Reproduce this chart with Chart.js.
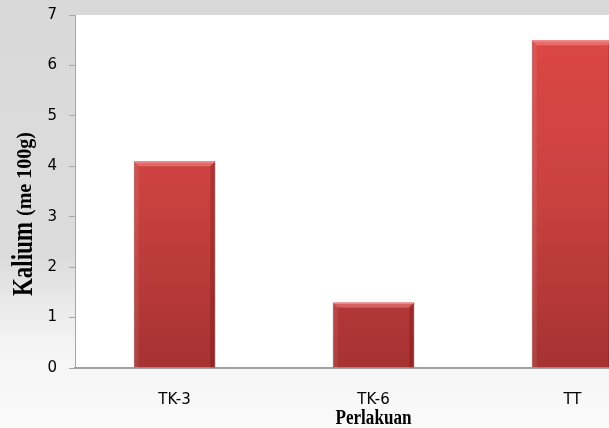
<!DOCTYPE html>
<html>
<head>
<meta charset="utf-8">
<script src="https://cdn.jsdelivr.net/npm/chart.js@4.4.0/dist/chart.umd.min.js"></script>
<style>
    body { margin: 0; overflow: hidden; background: #ffffff; }
    #wrap { width: 672px; height: 428px; position: relative; }
</style>
</head>
<body>
<div id="wrap"><canvas id="kaliumChart"></canvas></div>
<script>
// data
const categories = ['TK-3', 'TK-6', 'TT'];
const kaliumValues = [4.1, 1.3, 6.5];
const yTicks = [0, 1, 2, 3, 4, 5, 6, 7];

// grey page around the plot, white plot area
const backgroundPlugin = {
    id: 'pageBackground',
    beforeDraw(chart) {
        const ctx = chart.ctx;
        const area = chart.chartArea;
        const g = ctx.createLinearGradient(0, 0, 0, chart.height);
        g.addColorStop(0, '#d9d9d9');
        g.addColorStop(0.6, '#dcdcdc');
        g.addColorStop(0.8, '#f4f4f4');
        g.addColorStop(1, '#fafafa');
        ctx.save();
        ctx.fillStyle = g;
        ctx.fillRect(0, 0, chart.width, chart.height);
        ctx.fillStyle = '#ffffff';
        ctx.fillRect(area.left, area.top, area.right - area.left, area.bottom - area.top);
        ctx.restore();
    }
};

// draw a string stretched to a given length
function fitText(ctx, text, x, y, len) {
    const w = ctx.measureText(text).width;
    ctx.save();
    ctx.translate(x, y);
    ctx.scale(len / w, 1);
    ctx.fillText(text, 0, 0);
    ctx.restore();
}

// axis titles in tall condensed serif, like the original
const titlesPlugin = {
    id: 'axisTitles',
    afterDraw(chart) {
        const ctx = chart.ctx;
        const xs = chart.scales.x;
        ctx.save();
        ctx.fillStyle = '#000000';
        ctx.textBaseline = 'alphabetic';
        ctx.textAlign = 'left';

        // x title centred under the whole axis
        ctx.font = 'bold 20px "Liberation Serif"';
        const cx = (xs.left + xs.right) / 2;
        fitText(ctx, 'Perlakuan', cx - 38, 424, 76);

        // y title rotated
        ctx.translate(32, 296);
        ctx.rotate(-Math.PI / 2);
        ctx.font = 'bold 30px "Liberation Serif"';
        fitText(ctx, 'Kalium', 0, 0, 74);
        ctx.font = 'bold 20px "Liberation Serif"';
        fitText(ctx, '(me 100g)', 80, -1, 84);
        ctx.restore();
    }
};

// bevel on the bars: light top edge, darker sides
const bevelPlugin = {
    id: 'barBevel',
    afterDatasetsDraw(chart) {
        const ctx = chart.ctx;
        chart.getDatasetMeta(0).data.forEach(bar => {
            const l = bar.x - bar.width / 2;
            const r = bar.x + bar.width / 2;
            const t = bar.y;
            const b = bar.base;
            const e = 5;
            ctx.save();
            // top bevel
            ctx.beginPath();
            ctx.moveTo(l, t);
            ctx.lineTo(r, t);
            ctx.lineTo(r - e, t + e);
            ctx.lineTo(l + e, t + e);
            ctx.closePath();
            ctx.fillStyle = 'rgba(255,150,150,0.45)';
            ctx.fill();
            // left edge
            ctx.beginPath();
            ctx.moveTo(l, t);
            ctx.lineTo(l + e, t + e);
            ctx.lineTo(l + e, b);
            ctx.lineTo(l, b);
            ctx.closePath();
            ctx.fillStyle = 'rgba(255,255,255,0.08)';
            ctx.fill();
            // right edge
            ctx.beginPath();
            ctx.moveTo(r, t);
            ctx.lineTo(r - e, t + e);
            ctx.lineTo(r - e, b);
            ctx.lineTo(r, b);
            ctx.closePath();
            ctx.fillStyle = 'rgba(80,0,0,0.22)';
            ctx.fill();
            // highlight line on top
            ctx.fillStyle = '#f08a86';
            ctx.fillRect(l + 1, t, r - l - 2, 1.5);
            ctx.restore();
        });
    }
};

function barFill(context) {
    const chart = context.chart;
    const area = chart.chartArea;
    if (!area) return '#c94040';
    const g = chart.ctx.createLinearGradient(0, area.top, 0, area.bottom);
    g.addColorStop(0, '#de4845');
    g.addColorStop(0.5, '#ca4240');
    g.addColorStop(1, '#a63232');
    return g;
}

function initKaliumChart() {
    const ctx = document.getElementById('kaliumChart').getContext('2d');
    new Chart(ctx, {
        type: 'bar',
        data: {
            labels: categories,
            datasets: [{
                label: 'Kalium',
                data: kaliumValues,
                backgroundColor: barFill,
                borderColor: '#8e2a2a',
                borderWidth: 1,
                barPercentage: 0.41,
                categoryPercentage: 1.0
            }]
        },
        options: {
            responsive: true,
            maintainAspectRatio: false,
            animation: false,
            layout: { padding: { top: 15, right: 0, bottom: 0, left: 0 } },
            plugins: {
                legend: { display: false },
                tooltip: { enabled: false }
            },
            scales: {
                x: {
                    offset: true,
                    grid: { display: false },
                    border: { color: '#a0a0a0', width: 2 },
                    ticks: {
                        padding: 15,
                        color: '#000000',
                        font: { family: '"DejaVu Sans"', size: 15 }
                    },
                    afterFit(scale) { scale.height = 60; }
                },
                y: {
                    min: 0,
                    max: 7,
                    afterBuildTicks(scale) { scale.ticks = yTicks.map(v => ({ value: v })); },
                    grid: {
                        drawOnChartArea: false,
                        drawTicks: true,
                        tickLength: 6,
                        color: '#a6a6a6'
                    },
                    border: { color: '#a6a6a6', width: 1 },
                    ticks: {
                        padding: 12,
                        color: '#000000',
                        font: { family: '"DejaVu Sans"', size: 15 }
                    },
                    afterFit(scale) {
                        scale.width = 75;
                        scale.paddingTop = 0;
                        scale.paddingBottom = 0;
                    }
                }
            }
        },
        plugins: [backgroundPlugin, bevelPlugin, titlesPlugin]
    });
}

document.addEventListener('DOMContentLoaded', function() {
    initKaliumChart();
});
</script>
</body>
</html>
